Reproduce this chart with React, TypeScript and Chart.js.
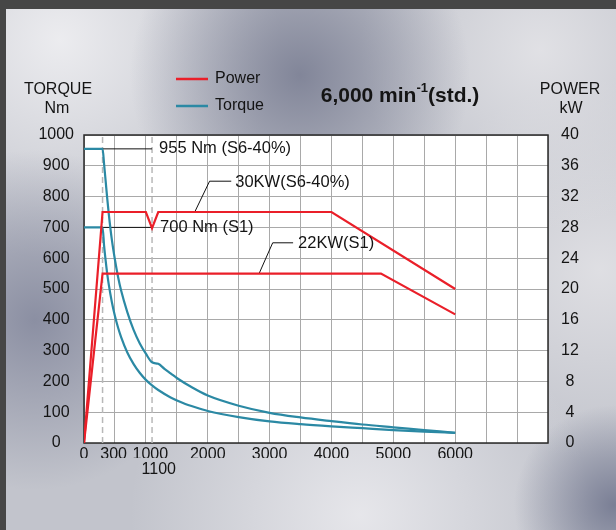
import React, { useEffect, useRef } from 'react';
import { Chart, registerables } from 'chart.js';

Chart.register(...registerables);

const FONT = "'Liberation Sans', Arial, Helvetica, sans-serif";
const RED = '#ea1f29';
const TEAL = '#2b89a4';
const INK = '#141414';

// ---- data ----
const rpmS6Power = [0, 300, 1000, 1100, 1200, 4000, 6000];
const kwS6Power = [0, 30, 30, 27.9, 30, 30, 20];

const rpmS1Power = [0, 300, 4800, 6000];
const kwS1Power = [0, 22, 22, 16.7];

const rpmS6Torque = [0, 300, 325, 350, 375, 400, 450, 500, 550, 600, 700, 800, 900, 1000, 1100, 1200, 1300, 1400, 1500, 1750, 2000, 2500, 3000, 3500, 4000, 4500, 5000, 5500, 6000];
const nmS6Torque = [955, 955, 905, 850, 795, 745, 660, 595, 540, 495, 425, 368, 324, 290, 262, 257, 241, 226, 211, 180, 154, 121, 98, 83, 71, 60, 51, 42, 33];

const rpmS1Torque = [0, 300, 325, 350, 375, 400, 450, 500, 550, 600, 700, 800, 900, 1000, 1100, 1200, 1400, 1600, 1800, 2000, 2500, 3000, 3500, 4000, 4500, 5000, 5500, 6000];
const nmS1Torque = [700, 700, 640, 592, 550, 515, 458, 412, 375, 344, 294, 257, 228, 205, 187, 172, 148, 130, 116, 104, 84, 70, 61, 54, 48, 42, 37, 33];

const markerRpm = [300, 1100];
const markerSpan = [0, 1000];

const lead955Rpm = [300, 1100];
const lead955Nm = [955, 955];
const lead700Rpm = [300, 1100];
const lead700Nm = [700, 700];
const lead30Rpm = [1790, 2030, 2380];
const lead30Kw = [30, 34, 34];
const lead22Rpm = [2830, 3050, 3380];
const lead22Kw = [22, 26, 26];

const annotationTexts = ['955 Nm (S6-40%)', '700 Nm (S1)', '30KW(S6-40%)', '22KW(S1)'];

const xGridValues = [0, 500, 1000, 1500, 2000, 2500, 3000, 3500, 4000, 4500, 5000, 5500, 6000, 6500, 7000, 7500];
const xTickLabels = [0, 300, 1000, 2000, 3000, 4000, 5000, 6000];
const xTickLabels2 = [1100];
const legendLabels = ['Power', 'Torque'];
const titleMain = '6,000 min';
const titleSup = '-1';
const titleTail = '(std.)';

const pts = (xs: number[], ys: number[]) => xs.map((x, i) => ({ x, y: ys[i] }));

const bgPlugin = {
  id: 'bgPanel',
  beforeDraw(chart: any) {
    const { ctx, width, height, chartArea } = chart;
    ctx.save();
    ctx.fillStyle = '#464646';
    ctx.fillRect(0, 0, width, height);
    const px = 6, py = 9;
    ctx.beginPath();
    ctx.rect(px, py, width - px, height - py);
    ctx.clip();
    ctx.fillStyle = '#c2c4cc';
    ctx.fillRect(px, py, width, height);
    const blobs: [number, number, number, string][] = [
      [60, 40, 220, '238,238,241'],
      [600, 270, 190, '224,224,228'],
      [540, 50, 180, '226,226,230'],
      [300, 75, 170, '126,130,150'],
      [35, 320, 170, '136,140,160'],
      [360, 515, 230, '232,232,236'],
      [614, 505, 100, '118,123,146'],
    ];
    for (const [x, y, r, c] of blobs) {
      const g = ctx.createRadialGradient(x, y, 0, x, y, r);
      g.addColorStop(0, `rgba(${c},0.95)`);
      g.addColorStop(1, `rgba(${c},0)`);
      ctx.fillStyle = g;
      ctx.fillRect(px, py, width, height);
    }
    ctx.restore();
    ctx.save();
    ctx.fillStyle = '#ffffff';
    ctx.fillRect(chartArea.left, chartArea.top, chartArea.right - chartArea.left, chartArea.bottom - chartArea.top);
    ctx.restore();
  },
  beforeDatasetsDraw(chart: any) {
    const { ctx, chartArea } = chart;
    ctx.save();
    ctx.strokeStyle = '#2a2a2a';
    ctx.lineWidth = 1.5;
    ctx.strokeRect(chartArea.left, chartArea.top, chartArea.right - chartArea.left, chartArea.bottom - chartArea.top);
    ctx.restore();
  },
};

const textPlugin = {
  id: 'texts',
  afterDraw(chart: any) {
    const { ctx } = chart;
    const sx = chart.scales.x, sy = chart.scales.y, sy1 = chart.scales.y1;
    ctx.save();
    ctx.fillStyle = INK;
    ctx.textBaseline = 'middle';
    // axis titles
    ctx.font = `16px ${FONT}`;
    ctx.textAlign = 'center';
    ctx.fillText('TORQUE', 58, 90);
    ctx.fillText('Nm', 57, 108.5);
    ctx.fillText('POWER', 570, 90);
    ctx.fillText('kW', 571, 108.5);
    // legend
    const legendColors = [RED, TEAL];
    const legendY = [79, 106];
    ctx.textAlign = 'left';
    legendLabels.forEach((lab, i) => {
      ctx.strokeStyle = legendColors[i];
      ctx.lineWidth = 2.5;
      ctx.beginPath();
      ctx.moveTo(176, legendY[i]);
      ctx.lineTo(208, legendY[i]);
      ctx.stroke();
      ctx.fillText(lab, 215, legendY[i]);
    });
    // title
    const bold = `bold 21px ${FONT}`;
    const supF = `bold 13px ${FONT}`;
    ctx.font = bold;
    const w1 = ctx.measureText(titleMain).width;
    const w3 = ctx.measureText(titleTail).width;
    ctx.font = supF;
    const w2 = ctx.measureText(titleSup).width;
    const total = w1 + w2 + w3;
    let tx = 400 - total / 2;
    ctx.font = bold;
    ctx.fillText(titleMain, tx, 96);
    tx += w1;
    ctx.font = supF;
    ctx.fillText(titleSup, tx, 88);
    tx += w2;
    ctx.font = bold;
    ctx.fillText(titleTail, tx, 96);
    // annotations
    ctx.font = `16.5px ${FONT}`;
    const anchors: [number, number, any, number, number][] = [
      [lead955Rpm[1], lead955Nm[1], sy, 7, 0],
      [lead700Rpm[1], lead700Nm[1], sy, 8, 0],
      [lead30Rpm[2], lead30Kw[2], sy1, 4, 1.5],
      [lead22Rpm[2], lead22Kw[2], sy1, 5, 1],
    ];
    anchors.forEach(([xv, yv, scale, dx, dy], i) => {
      ctx.fillText(annotationTexts[i], sx.getPixelForValue(xv) + dx, scale.getPixelForValue(yv) + dy);
    });
    ctx.restore();
  },
};

const lineDs = (data: any[], color: string, width: number, yAxisID: string, extra: any = {}) => ({
  data,
  borderColor: color,
  borderWidth: width,
  pointRadius: 0,
  fill: false,
  tension: 0,
  yAxisID,
  ...extra,
});

const pad = (s: string, n: number) => ' '.repeat(n) + s;

export default function App() {
  const ref = useRef<HTMLCanvasElement>(null);
  useEffect(() => {
    if (!ref.current) return;
    const chart = new Chart(ref.current, {
      type: 'line',
      data: {
        datasets: [
          lineDs(pts(rpmS6Power, kwS6Power), RED, 2.2, 'y1'),
          lineDs(pts(rpmS1Power, kwS1Power), RED, 2.2, 'y1'),
          lineDs(pts(rpmS6Torque, nmS6Torque), TEAL, 2.2, 'y', { cubicInterpolationMode: 'monotone' }),
          lineDs(pts(rpmS1Torque, nmS1Torque), TEAL, 2.2, 'y', { cubicInterpolationMode: 'monotone' }),
          lineDs(pts(lead955Rpm, lead955Nm), '#111', 1, 'y'),
          lineDs(pts(lead700Rpm, lead700Nm), '#111', 1, 'y'),
          lineDs(pts(lead30Rpm, lead30Kw), '#111', 1, 'y1'),
          lineDs(pts(lead22Rpm, lead22Kw), '#111', 1, 'y1'),
          lineDs(pts([markerRpm[0], markerRpm[0]], markerSpan), '#b8b8b8', 1.5, 'y', { borderDash: [6, 4] }),
          lineDs(pts([markerRpm[1], markerRpm[1]], markerSpan), '#b8b8b8', 1.5, 'y', { borderDash: [6, 4] }),
        ],
      },
      options: {
        responsive: false,
        animation: false,
        events: [],
        devicePixelRatio: 1,
        layout: { padding: { top: 135, bottom: 50, left: 0, right: 0 } },
        plugins: { legend: { display: false }, tooltip: { enabled: false }, title: { display: false } },
        scales: {
          x: {
            type: 'linear',
            position: 'bottom',
            min: 0,
            max: 7500,
            afterBuildTicks: (s: any) => {
              s.ticks = [...xGridValues, xTickLabels[1]].sort((a, b) => a - b).map((v) => ({ value: v }));
            },
            afterFit: (s: any) => { s.height = 15; },
            grid: {
              color: (c: any) => (c.tick && c.tick.value === xTickLabels[1] ? 'rgba(0,0,0,0)' : '#a9a9a9'),
              lineWidth: 1,
              drawTicks: false,
            },
            border: { display: false },
            ticks: {
              autoSkip: false,
              maxRotation: 0,
              padding: 2,
              color: INK,
              font: { family: FONT, size: 16 },
              callback: (v: any) => {
                if (!xTickLabels.includes(v)) return '';
                if (v === 300) return pad(String(v), 5);
                if (v === 1000) return pad(String(v), 2);
                return String(v);
              },
            },
          },
          x2: {
            type: 'linear',
            position: 'bottom',
            min: 0,
            max: 7500,
            afterBuildTicks: (s: any) => { s.ticks = xTickLabels2.map((v) => ({ value: v })); },
            afterFit: (s: any) => { s.height = 22; },
            grid: { display: false, drawTicks: false },
            border: { display: false },
            ticks: {
              autoSkip: false,
              maxRotation: 0,
              padding: 2,
              color: INK,
              font: { family: FONT, size: 16 },
              callback: (v: any) => pad(String(v), 3),
            },
          },
          y: {
            type: 'linear',
            position: 'left',
            min: 0,
            max: 1000,
            afterFit: (s: any) => { s.width = 84; },
            grid: { color: '#a9a9a9', lineWidth: 1, drawTicks: false },
            border: { display: false },
            ticks: {
              stepSize: 100,
              padding: 10,
              crossAlign: 'center',
              color: INK,
              font: { family: FONT, size: 16 },
              callback: (v: any) => String(v),
            },
          },
          y1: {
            type: 'linear',
            position: 'right',
            min: 0,
            max: 40,
            afterFit: (s: any) => { s.width = 68; },
            grid: { drawOnChartArea: false, drawTicks: false },
            border: { display: false },
            ticks: {
              stepSize: 4,
              padding: 13,
              crossAlign: 'center',
              color: INK,
              font: { family: FONT, size: 16 },
              callback: (v: any) => String(v),
            },
          },
        },
      } as any,
      plugins: [bgPlugin, textPlugin],
    } as any);
    return () => chart.destroy();
  }, []);
  return (
    <div style={{ position: 'absolute', left: 0, top: 0, width: 616, height: 530 }}>
      <canvas ref={ref} width={616} height={530} style={{ display: 'block', width: 616, height: 530 }} />
    </div>
  );
}
